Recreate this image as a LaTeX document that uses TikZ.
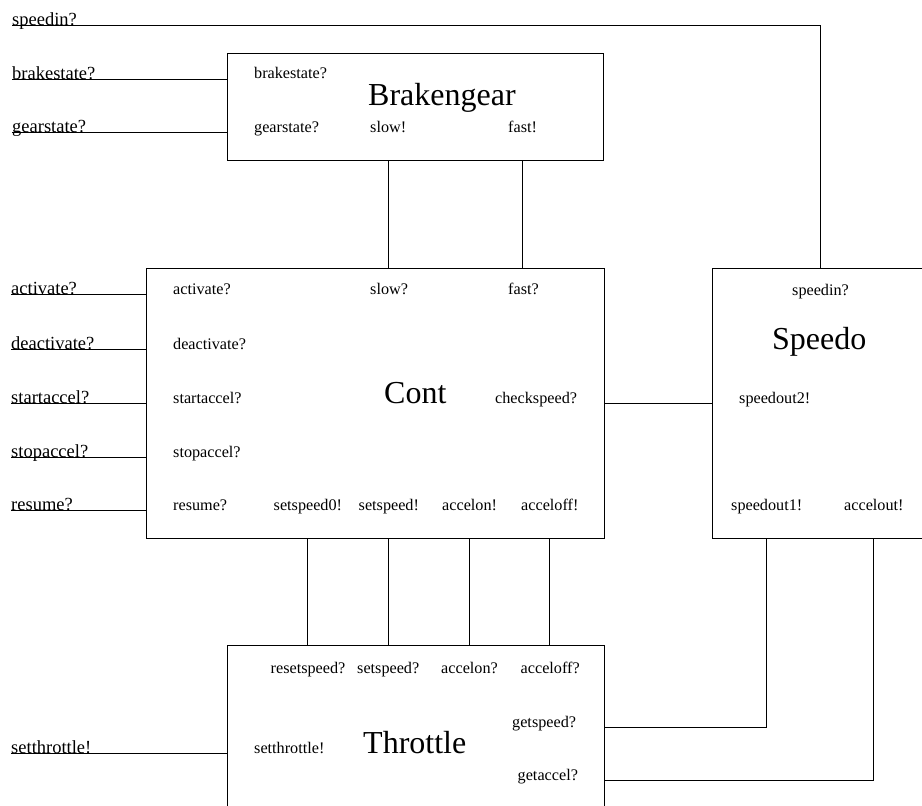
\documentclass[tikz,border=0pt]{standalone}
\usepackage{fontspec}
\setmainfont{Liberation Serif}
\usetikzlibrary{positioning}

\begin{document}
\begin{tikzpicture}[
    x=1pt, y=-1pt,
    block/.style={draw, rectangle, inner sep=0pt, line width=1pt, anchor=north west},
    port/.style={inner sep=0pt, anchor=base west, font=\fontsize{16.2}{18}\selectfont},
    ext/.style={inner sep=0pt, anchor=base west, font=\fontsize{18.5}{20}\selectfont},
    title/.style={inner sep=0pt, anchor=base west, font=\fontsize{32}{36}\selectfont},
    wire/.style={line width=1pt}
]
    \useasboundingbox (0,0) rectangle (922,806);
    \clip (0,0) rectangle (922,806);

    % Brakengear
    \node[block, minimum width=376pt, minimum height=107pt] (brake) at (227,53) {};
    \node[title] at (368,105) {Brakengear};
    \node[port] (bbs) at (254,78) {brakestate?};
    \node[port] (bgs) at (254,132) {gearstate?};
    \node[port] (bslow) at (370,132) {slow!};
    \node[port] (bfast) at (508,132) {fast!};

    % Cont
    \node[block, minimum width=458pt, minimum height=269.5pt] (cont) at (146,268) {};
    \node[title] at (384,403) {Cont};
    \node[port] (cact) at (173,294) {activate?};
    \node[port] (cslow) at (370,294) {slow?};
    \node[port] (cfast) at (508,294) {fast?};
    \node[port] (cdeact) at (173,349) {deactivate?};
    \node[port] (cstart) at (173,403) {startaccel?};
    \node[port] (ccheck) at (495,403) {checkspeed?};
    \node[port] (cstop) at (173,457) {stopaccel?};
    \node[port] (cres) at (173,510) {resume?};
    \node[port] (cset0) at (273.5,510) {setspeed0!};
    \node[port] (cset) at (358.5,510) {setspeed!};
    \node[port] (con) at (442,510) {accelon!};
    \node[port] (coff) at (521,510) {acceloff!};

    % Speedo
    \node[block, minimum width=223pt, minimum height=269.5pt] (speedo) at (712,268) {};
    \node[title] at (772,349) {Speedo};
    \node[port] (sin) at (792,295) {speedin?};
    \node[port] (sout2) at (739,403) {speedout2!};
    \node[port] (sout1) at (731,510.5) {speedout1!};
    \node[port] (sacc) at (844,510.5) {accelout!};

    % Throttle
    \node[block, minimum width=377pt, minimum height=185pt] (thr) at (227,645) {};
    \node[title] at (363,753) {Throttle};
    \node[port] (treset) at (270.5,673) {resetspeed?};
    \node[port] (tset) at (357,673) {setspeed?};
    \node[port] (ton) at (441,673) {accelon?};
    \node[port] (toff) at (520.5,673) {acceloff?};
    \node[port] (tgs) at (512,727) {getspeed?};
    \node[port] (tga) at (517.5,780) {getaccel?};
    \node[port] (tthr) at (254,753) {setthrottle!};

    % outer channels
    \node[ext] (xspeedin) at (12,25) {speedin?};
    \node[ext] (xbrake) at (12,79) {brakestate?};
    \node[ext] (xgear) at (12,132.5) {gearstate?};
    \node[ext] (xact) at (11,294) {activate?};
    \node[ext] (xdeact) at (11,349) {deactivate?};
    \node[ext] (xstart) at (11,403) {startaccel?};
    \node[ext] (xstop) at (11,457) {stopaccel?};
    \node[ext] (xres) at (11,510) {resume?};
    \node[ext] (xthr) at (11,753) {setthrottle!};

    % wires to the outside
    \draw[wire] (xspeedin.base west) -| (sin |- speedo.north);
    \foreach \n in {xbrake, xgear}
        \draw[wire] (\n.base west) -- (\n.base west -| brake.west);
    \foreach \n in {xact, xdeact, xstart, xstop, xres}
        \draw[wire] (\n.base west) -- (\n.base west -| cont.west);
    \draw[wire] (xthr.base west) -- (xthr.base west -| thr.west);

    % Brakengear - Cont
    \foreach \p in {bslow, bfast}
        \draw[wire] (\p |- brake.south) -- (\p |- cont.north);

    % Cont - Throttle
    \foreach \p in {cset0, cset, con, coff}
        \draw[wire] (\p |- cont.south) -- (\p |- thr.north);

    % Cont - Speedo
    \draw[wire] (ccheck.base -| cont.east) -- (ccheck.base -| speedo.west);

    % Throttle - Speedo
    \draw[wire] (tgs.base -| thr.east) -| (sout1 |- speedo.south);
    \draw[wire] (tga.base -| thr.east) -| (sacc |- speedo.south);

\end{tikzpicture}
\end{document}
